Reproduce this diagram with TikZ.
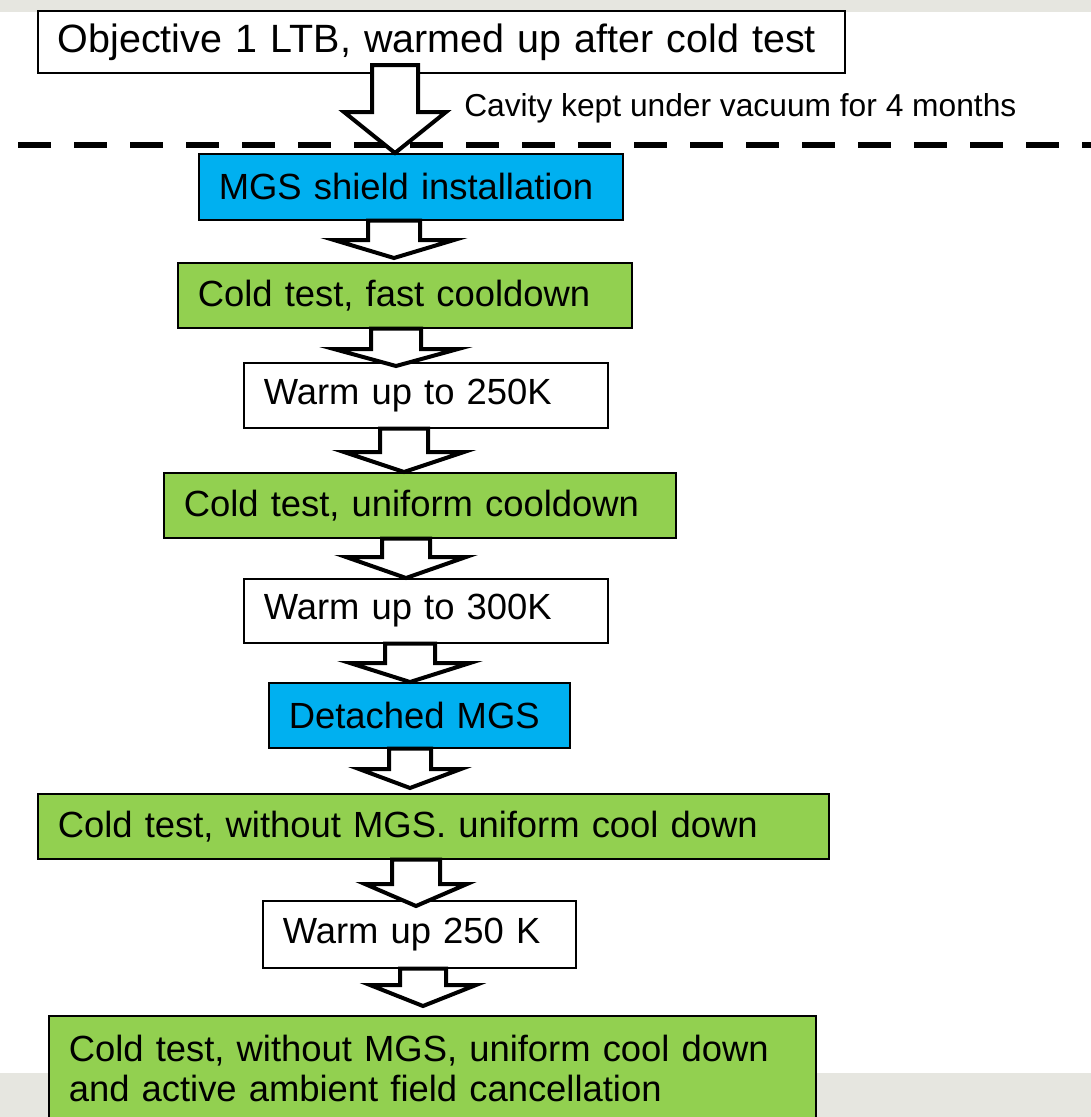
\documentclass[tikz,border=0pt]{standalone}
\usepackage{fontspec}
\setmainfont{Liberation Sans}
\usetikzlibrary{calc}

\definecolor{mgsblue}{RGB}{0,176,240}
\definecolor{testgreen}{RGB}{146,208,80}
\definecolor{bandgray}{RGB}{230,230,224}

\tikzset{
  stepbox/.style={draw=black, line width=1.2, anchor=north west, inner xsep=15pt, align=left,
    font=\fontsize{27.3}{30}\selectfont},
  coldbox/.style={stepbox, fill=testgreen},
  shieldbox/.style={stepbox, fill=mgsblue},
  warmbox/.style={stepbox, fill=white},
  % hollow block arrow: shaft half width / head half width / head length
  blockarrow/.style n args={3}{draw=black, line width=3, fill=white, miter limit=10,
    to path={($(\tikztostart)+(-#1,0)$) -- ($(\tikztostart |- \tikztotarget)+(-#1,-#3)$)
      -- ($(\tikztostart |- \tikztotarget)+(-#2,-#3)$) -- (\tikztotarget)
      -- ($(\tikztostart |- \tikztotarget)+(#2,-#3)$) -- ($(\tikztostart |- \tikztotarget)+(#1,-#3)$)
      -- ($(\tikztostart)+(#1,0)$) -- cycle}}
}

\begin{document}
\begin{tikzpicture}[x=0.75pt,y=0.75pt,yscale=-1,xscale=1]
		\useasboundingbox (0,0) rectangle (1091,1117);
		
		%Shape: Rectangle [id:bandtop] 
		\fill[bandgray] (0,0) rectangle (1091,12);
		%Shape: Rectangle [id:bandbottom] 
		\fill[bandgray] (0,1073) rectangle (1091,1117);
		
		%Straight Lines [id:cutline] 
		\draw[line width=4.5, dash pattern=on 24.75pt off 17.25pt] (18,145) -- (1091,145);
		
		% Text Node
		\node[warmbox, text width=575.25pt, minimum height=46.5pt, font=\fontsize{29.6}{32}\selectfont] (obj) at (37,10) {Objective 1 LTB, warmed up after cold test};
		% Text Node
		\node[shieldbox, text width=288pt, minimum height=49.5pt] (mgs) at (198,153) {MGS shield installation};
		% Text Node
		\node[coldbox, text width=310.5pt, minimum height=48.75pt] (fast) at (177,262) {Cold test, fast cooldown};
		% Text Node
		\node[warmbox, text width=243pt, minimum height=48.75pt] (warmA) at (243,362) {Warm up to 250K};
		% Text Node
		\node[coldbox, text width=354pt, minimum height=48.75pt] (uniform) at (163,472) {Cold test, uniform cooldown};
		% Text Node
		\node[warmbox, text width=243pt, minimum height=48pt] (warmB) at (243,578) {Warm up to 300K};
		% Text Node
		\node[shieldbox, text width=195.75pt, minimum height=48.75pt] (detach) at (268,682) {Detached MGS};
		% Text Node
		\node[coldbox, text width=563.25pt, minimum height=48.75pt] (nomgs) at (37,793) {Cold test, without MGS. uniform cool down};
		% Text Node
		\node[warmbox, text width=204.75pt, minimum height=50.25pt] (warmC) at (262,900) {Warm up 250 K};
		% Text Node
		\node[coldbox, text width=545.25pt, minimum height=79.5pt] (cancel) at (48,1015) {Cold test, without MGS, uniform cool down\\and active ambient field cancellation};
		
		% Text Node
		\node[anchor=west, inner sep=0.75pt, font=\fontsize{23.8}{27}\selectfont] (vacuum) at (463,108) {Cavity kept under vacuum for 4 months};
		
		%Block Arrows
		\draw[blockarrow={23}{51}{41}] (395,65) to (395,0 |- mgs.north) ;
		\draw[blockarrow={26}{60}{18}] (394,0 |- mgs.south) to (394,258) ;
		\draw[blockarrow={25}{62}{17}] (396,0 |- fast.south) to (396,366) ;
		\draw[blockarrow={24}{60}{20}] (404,0 |- warmA.south) to (404,0 |- uniform.north) ;
		\draw[blockarrow={24}{60}{21}] (406,0 |- uniform.south) to (406,0 |- warmB.north) ;
		\draw[blockarrow={25}{60}{19}] (410,0 |- warmB.south) to (410,0 |- detach.north) ;
		\draw[blockarrow={21}{51}{19}] (410,0 |- detach.south) to (410,788) ;
		\draw[blockarrow={24}{51}{22}] (416,0 |- nomgs.south) to (416,906) ;
		\draw[blockarrow={23}{53}{21}] (423,0 |- warmC.south) to (423,1006) ;
		
		
		\end{tikzpicture}
\end{document}
